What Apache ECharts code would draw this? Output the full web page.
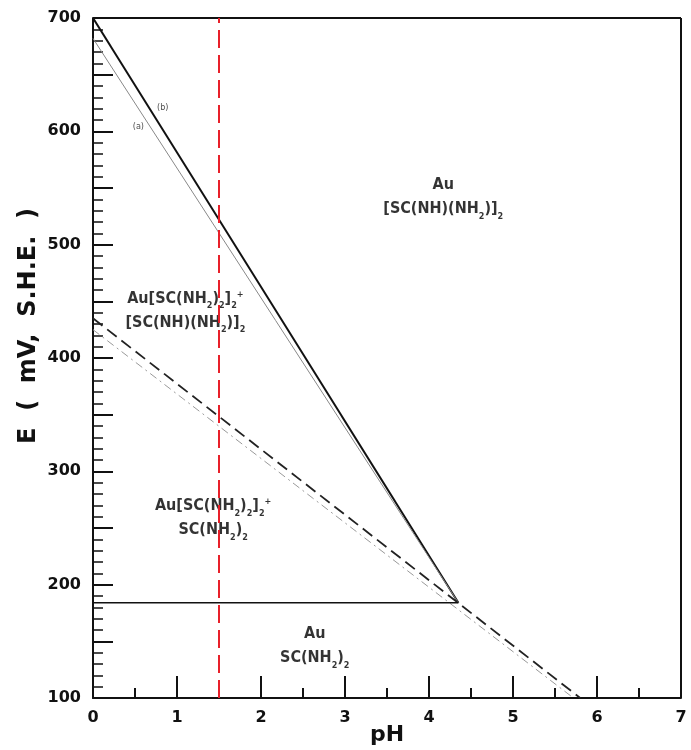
<!DOCTYPE html>
<html>
<head>
<meta charset="utf-8">
<script src="https://cdn.jsdelivr.net/npm/echarts@6/dist/echarts.min.js"></script>
<style>
  html, body { margin: 0; padding: 0; background: #fff; }
  #chart { width: 691px; height: 750px; }
</style>
</head>
<body>
<div id="chart"></div>
<script>
// boundary lines (pH, mV)
const lineB = [[0, 700], [4.35, 184]];
const lineA = [[0, 682], [4.35, 184]];
const dashedLine = [[0, 435], [5.8, 100]];
const dashDotLine = [[0, 425], [5.72, 100]];
const flatLine = [[0, 184], [4.35, 184]];
const markerPH = 1.5;

// region labels: [pH, mV, text]
const regionLabels = [
  [4.17, 542, "{t|Au}\n{t|[SC(NH)(NH}{s|2}{t|)]}{s|2}"],
  [1.1, 442, "{t|Au[SC(NH}{s|2}{t|)}{s|2}{t|]}{s|2}{p|+}\n{t|[SC(NH)(NH}{s|2}{t|)]}{s|2}"],
  [1.43, 259, "{t|Au[SC(NH}{s|2}{t|)}{s|2}{t|]}{s|2}{p|+}\n{t|SC(NH}{s|2}{t|)}{s|2}"],
  [2.64, 146, "{t|Au}\n{t|SC(NH}{s|2}{t|)}{s|2}"]
];
const curveLabels = [
  [0.83, 621, "(b)"],
  [0.54, 604, "(a)"]
];

const labelFont = "'DejaVu Sans Condensed', 'Liberation Sans', sans-serif";
const axisFont = "'DejaVu Sans', Verdana, sans-serif";

const richText = {
  t: { fontSize: 16, fontFamily: labelFont, fontWeight: "bold", color: "#000", lineHeight: 24 },
  s: { fontSize: 9, fontFamily: labelFont, fontWeight: "bold", color: "#000", verticalAlign: "bottom", padding: [6, 0, 0, 0] },
  p: { fontSize: 9, fontFamily: labelFont, fontWeight: "bold", color: "#000", padding: [0, 0, 8, 0] }
};

const chart = echarts.init(document.getElementById("chart"));
chart.setOption({
  animation: false,
  grid: { left: 93, right: 10, top: 18, bottom: 52, outerBoundsMode: "none" },
  xAxis: {
    type: "value",
    min: 0,
    max: 7,
    interval: 1,
    name: "pH",
    nameLocation: "middle",
    nameGap: 26,
    nameMoveOverlap: false,
    nameTextStyle: { fontSize: 22, fontWeight: "bold", color: "#111", fontFamily: axisFont },
    axisLine: { onZero: false, lineStyle: { color: "#111", width: 2 } },
    axisTick: { inside: true, length: 22, lineStyle: { color: "#111", width: 2 } },
    minorTick: { show: true, splitNumber: 2, length: 10, lineStyle: { color: "#111", width: 2 } },
    axisLabel: { fontSize: 16, fontWeight: "bold", color: "#111", margin: 12, fontFamily: axisFont },
    splitLine: { show: false }
  },
  yAxis: {
    type: "value",
    min: 100,
    max: 700,
    interval: 50,
    name: "E  (  mV,  S.H.E.  )",
    nameLocation: "middle",
    nameGap: 52,
    nameMoveOverlap: false,
    nameTextStyle: { fontSize: 24, fontWeight: "bold", color: "#111", fontFamily: axisFont, padding: [0, 0, 0, 64] },
    axisLine: { onZero: false, lineStyle: { color: "#111", width: 2 } },
    axisTick: { inside: true, length: 20, lineStyle: { color: "#111", width: 2 } },
    minorTick: { show: true, splitNumber: 5, length: 10, lineStyle: { color: "#111", width: 1.5 } },
    axisLabel: {
      fontSize: 16, fontWeight: "bold", color: "#111", margin: 12, fontFamily: axisFont,
      formatter: v => (v % 100 === 0 ? String(v) : "")
    },
    splitLine: { show: false }
  },
  series: [
    {
      type: "line", data: lineB, symbol: "none",
      lineStyle: { color: "#111", width: 2 },
      markLine: {
        silent: true, symbol: "none", label: { show: false },
        lineStyle: { color: "#e8202a", width: 2, type: [18, 7] },
        data: [{ xAxis: markerPH }]
      }
    },
    { type: "line", data: lineA, symbol: "none", lineStyle: { color: "#888", width: 1 } },
    { type: "line", data: dashedLine, symbol: "none", lineStyle: { color: "#222", width: 1.8, type: [12, 6] } },
    { type: "line", data: dashDotLine, symbol: "none", lineStyle: { color: "#999", width: 1, type: [8, 4, 2, 4] } },
    { type: "line", data: flatLine, symbol: "none", lineStyle: { color: "#111", width: 1.5 } },
    {
      type: "scatter", symbolSize: 0, silent: true,
      data: regionLabels.map(d => ({ value: [d[0], d[1]], label: { formatter: d[2] } })),
      label: { show: true, position: "inside", align: "center", verticalAlign: "middle", color: "#000", rich: richText }
    },
    {
      type: "scatter", symbolSize: 0, silent: true,
      data: curveLabels.map(d => ({ value: [d[0], d[1]], label: { formatter: d[2] } })),
      label: { show: true, position: "inside", fontSize: 9, color: "#222", fontFamily: labelFont }
    }
  ],
  graphic: [
    // top and right frame of the plot box
    { type: "line", shape: { x1: 93, y1: 18, x2: 681, y2: 18 }, style: { stroke: "#111", lineWidth: 2 } },
    { type: "line", shape: { x1: 681, y1: 18, x2: 681, y2: 698 }, style: { stroke: "#111", lineWidth: 2 } }
  ]
});
</script>
</body>
</html>
